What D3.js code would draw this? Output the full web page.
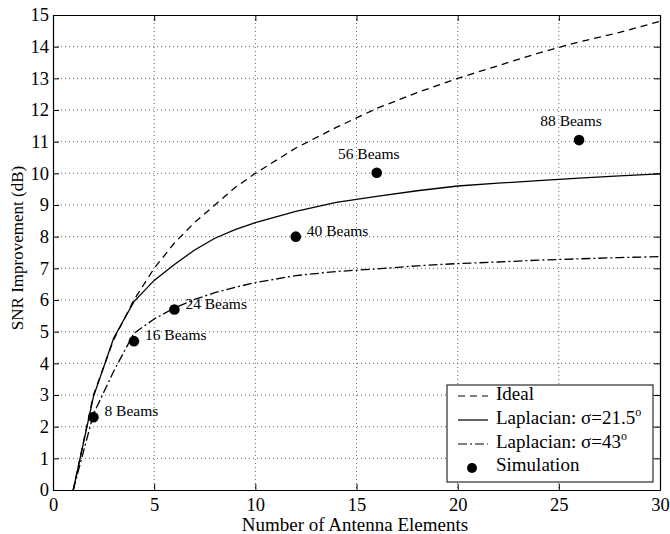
<!DOCTYPE html>
<html>
<head>
<meta charset="utf-8">
<script src="https://cdn.jsdelivr.net/npm/d3@7"></script>
<style>
  html, body { margin: 0; padding: 0; background: #fff; }
  svg { display: block; font-family: "Liberation Serif", "Times New Roman", serif; }
</style>
</head>
<body>
<svg id="chart" width="670" height="534"></svg>
<script>
// ---- data ----
const xTicks = [0, 5, 10, 15, 20, 25, 30];
const yTicks = [0, 1, 2, 3, 4, 5, 6, 7, 8, 9, 10, 11, 12, 13, 14, 15];

const idealN   = [1, 2, 3, 4, 5, 6, 7, 8, 9, 10, 12, 14, 16, 18, 20, 22, 24, 26, 28, 30];
const idealDB  = [0, 3.0, 4.75, 6.0, 7.0, 7.8, 8.45, 9.0, 9.55, 10.0, 10.8, 11.45, 12.05, 12.55, 13.0, 13.4, 13.8, 14.15, 14.45, 14.8];

const lap21N   = [1, 2, 3, 4, 5, 6, 7, 8, 9, 10, 12, 14, 16, 18, 20, 22, 24, 26, 28, 30];
const lap21DB  = [0, 2.95, 4.8, 5.95, 6.62, 7.12, 7.58, 7.95, 8.22, 8.44, 8.8, 9.08, 9.27, 9.45, 9.6, 9.69, 9.77, 9.85, 9.92, 9.98];

const lap43N   = [1, 2, 3, 4, 5, 6, 7, 8, 9, 10, 12, 14, 16, 18, 20, 22, 24, 26, 28, 30];
const lap43DB  = [0, 2.4, 3.75, 4.95, 5.4, 5.75, 6.02, 6.23, 6.4, 6.55, 6.77, 6.9, 6.98, 7.08, 7.15, 7.2, 7.26, 7.3, 7.34, 7.37];

const simN      = [2, 4, 6, 12, 16, 26];
const simDB     = [2.3, 4.7, 5.7, 8.0, 10.02, 11.05];
const simLabels = ["8 Beams", "16 Beams", "24 Beams", "40 Beams", "56 Beams", "88 Beams"];
// label placement: "right" of the dot or "above" it
const simLabelPos = ["right", "right", "right", "right", "above", "above"];

const legendLabels = ["Ideal", "Laplacian: σ=21.5", "Laplacian: σ=43", "Simulation"];

// ---- layout ----
const svg = d3.select("#chart");
const L = 53, R = 660, T = 15, B = 490;
const x = d3.scaleLinear().domain([0, 30]).range([L, R]);
const y = d3.scaleLinear().domain([0, 15]).range([B, T]);

// grid (dotted)
const grid = svg.append("g");
grid.selectAll("line.gx").data(xTicks.filter(d => d > 0 && d < 30)).join("line")
  .attr("x1", d => x(d)).attr("x2", d => x(d)).attr("y1", T).attr("y2", B)
  .attr("stroke", "#555").attr("stroke-width", 0.9).attr("stroke-dasharray", "1,3");
grid.selectAll("line.gy").data(yTicks.filter(d => d > 0 && d < 15)).join("line")
  .attr("y1", d => y(d)).attr("y2", d => y(d)).attr("x1", L).attr("x2", R)
  .attr("stroke", "#555").attr("stroke-width", 0.9).attr("stroke-dasharray", "1,3");

// axes
const tickLen = 6;
const axB = svg.append("g").attr("transform", `translate(0,${B})`)
  .call(d3.axisBottom(x).tickValues(xTicks).tickSizeInner(-tickLen).tickSizeOuter(0).tickPadding(8));
const axT = svg.append("g").attr("transform", `translate(0,${T})`)
  .call(d3.axisTop(x).tickValues(xTicks).tickSizeInner(-tickLen).tickSizeOuter(0).tickFormat(""));
const axL = svg.append("g").attr("transform", `translate(${L},0)`)
  .call(d3.axisLeft(y).tickValues(yTicks).tickSizeInner(-tickLen).tickSizeOuter(0).tickPadding(4));
const axR = svg.append("g").attr("transform", `translate(${R},0)`)
  .call(d3.axisRight(y).tickValues(yTicks).tickSizeInner(-tickLen).tickSizeOuter(0).tickFormat(""));
[axB, axT, axL, axR].forEach(a => {
  a.select(".domain").attr("stroke", "#000").attr("stroke-width", 1.2);
  a.selectAll(".tick line").attr("stroke", "#000").attr("stroke-width", 1);
  a.selectAll("text").attr("font-family", "Liberation Serif, serif").attr("font-size", 18.5).attr("fill", "#000");
});

// curves
const lineGen = d3.line().x(d => x(d[0])).y(d => y(d[1]));
const series = [
  { n: idealN, v: idealDB, dash: "7,5" },
  { n: lap21N, v: lap21DB, dash: null },
  { n: lap43N, v: lap43DB, dash: "9,3,2,3" }
];
series.forEach(s => {
  svg.append("path")
    .datum(s.n.map((n, i) => [n, s.v[i]]))
    .attr("d", lineGen)
    .attr("fill", "none").attr("stroke", "#000").attr("stroke-width", 1.3)
    .attr("stroke-dasharray", s.dash);
});

// simulation points and labels
const sim = simN.map((n, i) => ({ n, v: simDB[i], label: simLabels[i], pos: simLabelPos[i] }));
svg.selectAll("circle.sim").data(sim).join("circle")
  .attr("cx", d => x(d.n)).attr("cy", d => y(d.v)).attr("r", 5.3).attr("fill", "#000");
svg.selectAll("text.simlab").data(sim).join("text")
  .attr("x", d => d.pos === "above" ? x(d.n) - 8 : x(d.n) + 11)
  .attr("y", d => d.pos === "above" ? y(d.v) - 14 : y(d.v) - 1)
  .attr("text-anchor", d => d.pos === "above" ? "middle" : "start")
  .attr("font-size", 15.5)
  .text(d => d.label);

// axis titles
svg.append("text").attr("x", 355).attr("y", 531).attr("text-anchor", "middle")
  .attr("font-size", 19).text("Number of Antenna Elements");
svg.append("text").attr("transform", `translate(23,248) rotate(-90)`).attr("text-anchor", "middle")
  .attr("font-size", 17).text("SNR Improvement (dB)");

// legend
const lg = svg.append("g");
lg.append("rect").attr("x", 447).attr("y", 385).attr("width", 206).attr("height", 97)
  .attr("fill", "#fff").attr("stroke", "#000").attr("stroke-width", 1);
const rowsY = [394, 418, 442, 465];
const dashes = ["7,5", null, "9,3,2,3"];
legendLabels.forEach((lab, i) => {
  if (i < 3) {
    lg.append("line").attr("x1", 458).attr("x2", 488).attr("y1", rowsY[i] + 2).attr("y2", rowsY[i] + 2)
      .attr("stroke", "#000").attr("stroke-width", 1.2).attr("stroke-dasharray", dashes[i]);
  } else {
    lg.append("circle").attr("cx", 472).attr("cy", rowsY[i] + 3).attr("r", 5).attr("fill", "#000");
  }
  const t = lg.append("text").attr("x", 496).attr("y", rowsY[i] + 6).attr("font-size", 19).text(lab);
  if (i === 1 || i === 2) {
    t.append("tspan").attr("dy", -8).attr("font-size", 12).text("o");
  }
});
</script>
</body>
</html>
